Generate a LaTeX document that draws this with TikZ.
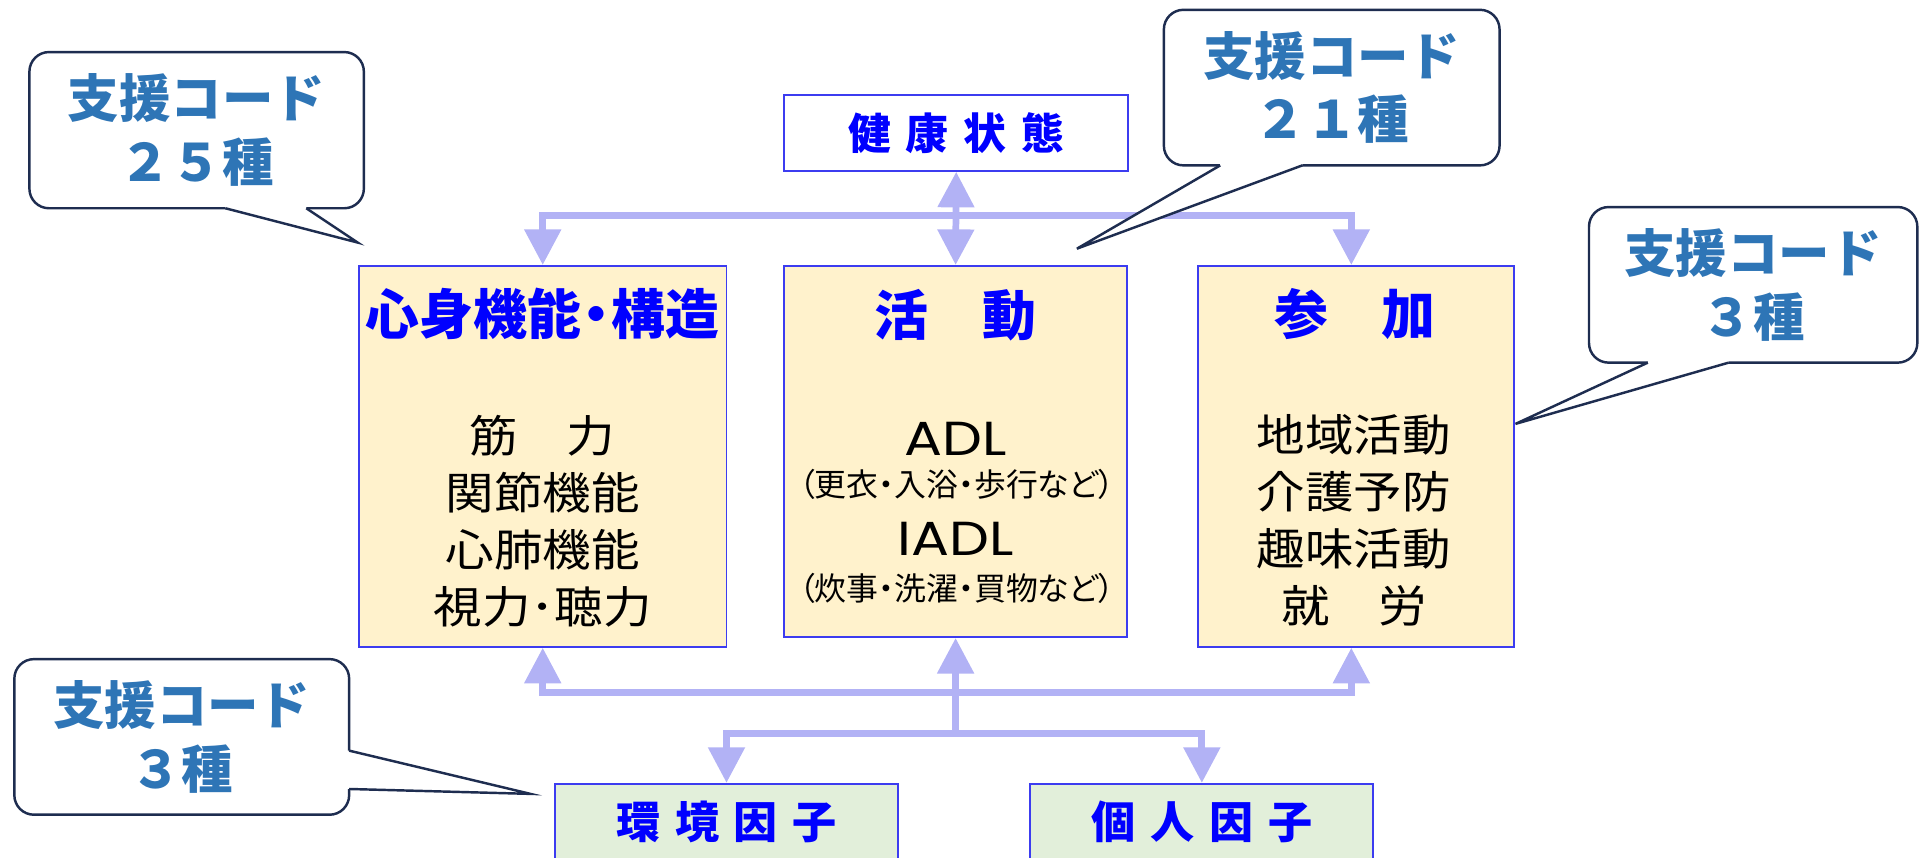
\documentclass[tikz,border=0pt]{standalone}
\usepackage{fontspec}
\usepackage{graphicx}
\setmainfont{Noto Sans CJK JP}
\newfontfamily\jp{Noto Sans CJK JP}
\newfontfamily\jpbody{Noto Sans CJK JP}[FakeStretch=1.1]
\newfontfamily\jpnarrow{Noto Sans CJK JP}[RawFeature=+palt]
\newfontfamily\geo{Poppins}
\usetikzlibrary{arrows.meta}
\definecolor{calloutblue}{RGB}{46,117,182}
\definecolor{calloutline}{RGB}{30,45,80}
\definecolor{boxyellow}{RGB}{255,242,204}
\definecolor{boxgreen}{RGB}{226,239,218}
\definecolor{boxline}{RGB}{60,60,240}
\definecolor{linkc}{RGB}{178,178,245}
\definecolor{titleblue}{RGB}{0,0,255}
\begin{document}
\begin{tikzpicture}[x=1pt,y=-1pt,
  box/.style={draw=boxline, line width=1.5pt, inner sep=0pt},
  ybox/.style={box, fill=boxyellow},
  gbox/.style={box, fill=boxgreen, text=titleblue, font=\jp\bfseries\fontsize{36}{40}\selectfont},
  hbox/.style={box, fill=white, text=titleblue, font=\jp\bfseries\fontsize{35}{40}\selectfont},
  boxtitle/.style={inner sep=0pt, text=titleblue, font=\jp\bfseries\fontsize{44}{50}\selectfont},
  bodytext/.style={inner sep=0pt, align=center, font=\jpbody\fontsize{36}{46.5}\selectfont},
  latinline/.style={inner sep=0pt, font=\geo\fontsize{39}{40}\selectfont},
  smallline/.style={inner sep=0pt, font=\jpnarrow\fontsize{26}{28}\selectfont},
  callout/.style={draw=calloutline, line width=2pt, fill=white, rounded corners=16pt, inner sep=0pt, align=center, text=calloutblue, font=\jp\bfseries\fontsize{42}{52}\selectfont},
  tail/.style={draw=calloutline, line width=2pt, line join=miter},
  link/.style={draw=linkc, line width=5.5pt},
  arr/.style={link, -{Triangle[width=29pt,length=29pt]}},
  darr/.style={link, {Triangle[width=29pt,length=29pt]}-{Triangle[width=29pt,length=29pt]}},
]
\useasboundingbox (0,0) rectangle (1568,700);
\clip (0,0) rectangle (1568,700);

% boxes
\node[hbox, minimum width=281pt, minimum height=62pt] (health) at (780.5,108.5)
  {健\hspace{12pt}康\hspace{12pt}状\hspace{12pt}態};
\node[ybox, minimum width=300pt, minimum height=311pt] (body) at (443,372.5) {};
\node[ybox, minimum width=280pt, minimum height=303pt] (act) at (780,368.5) {};
\node[ybox, minimum width=258pt, minimum height=311pt] (part) at (1107,372.5) {};
\node[gbox, minimum width=280pt, minimum height=63pt, anchor=north] (env) at (593,639)
  {環\hspace{12pt}境\hspace{12pt}因\hspace{12pt}子};
\node[gbox, minimum width=280pt, minimum height=63pt, anchor=north] (pers) at (981,639)
  {個\hspace{12pt}人\hspace{12pt}因\hspace{12pt}子};

% titles and contents
\node[boxtitle] (bodytitle) at (443,256) {心身機能\kern-0.22em・\kern-0.22em構造};
\node[boxtitle] (acttitle) at (780,257) {活　動};
\node[boxtitle] (parttitle) at (1106,256) {参　加};
\node[bodytext] (bodylist) at (443,425.5) {筋　力\\関節機能\\心肺機能\\視力･聴力};
\node[bodytext] (partlist) at (1105,424.5) {地域活動\\介護予防\\趣味活動\\就　労};
\node[latinline] (adl) at (780,358) {\scalebox{1.18}[1]{ADL}};
\node[smallline] (adlnote) at (781,395) {（更衣・入浴・歩行など）};
\node[latinline] (iadl) at (780,440) {\scalebox{1.18}[1]{IADL}};
\node[smallline] (iadlnote) at (781,480) {（炊事・洗濯・買物など）};

% connectors
\coordinate (toprow) at (780,176);
\coordinate (midrow) at (780,565.4);
\coordinate (lowrow) at (780,598.5);
\draw[arr] (toprow) -| (body.north);
\draw[arr] (toprow) -| ([xshift=-4pt]part.north);
\draw[darr] (health.south) -- (act.north);
\draw[arr] (midrow) -| (body.south);
\draw[arr] (midrow) -| ([xshift=-4pt]part.south);
\draw[arr] (lowrow) -- (act.south);
\draw[arr] (lowrow) -| (env.north);
\draw[arr] (lowrow) -| (pers.north);

% callout 1
\node[callout, minimum width=273pt, minimum height=127.5pt] (c1) at (160.5,106.25) {支援コード\\２５種};
\coordinate (c1tip) at (292,198);
\fill[white] (184,166) -- (184,170) -- (c1tip) -- (250,170) -- (250,166) -- cycle;
\draw[tail] (184,170) -- (c1tip) -- (250,170);

% callout 2
\node[callout, minimum width=274pt, minimum height=127pt] (c2) at (1087,71.5) {支援コード\\２１種};
\coordinate (c2tip) at (879,203);
\fill[white] (996,131) -- (996,135) -- (c2tip) -- (1063,135) -- (1063,131) -- cycle;
\draw[tail] (996,135) -- (c2tip) -- (1063,135);

% callout 3
\node[callout, minimum width=268pt, minimum height=127pt] (c3) at (1431,232.5) {支援コード\\３種};
\coordinate (c3tip) at (1237,346);
\fill[white] (1345,292) -- (1345,296) -- (c3tip) -- (1411,296) -- (1411,292) -- cycle;
\draw[tail] (1345,296) -- (c3tip) -- (1411,296);

% callout 4
\node[callout, minimum width=273.3pt, minimum height=127pt] (c4) at (148.35,601.5) {支援コード\\３種};
\coordinate (c4tip) at (433,648);
\fill[white] (281,612.7) -- (285,612.7) -- (c4tip) -- (285,644) -- (281,644) -- cycle;
\draw[tail] (285,612.7) -- (c4tip) -- (285,644);
\end{tikzpicture}
\end{document}
